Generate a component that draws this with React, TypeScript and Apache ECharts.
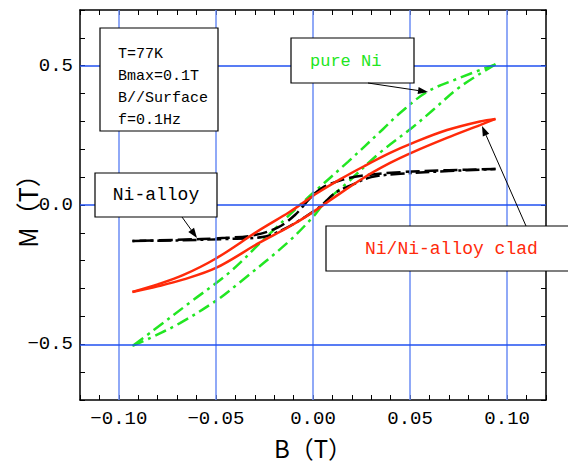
import React, { useEffect, useRef } from 'react';
import * as echarts from 'echarts';

// ---- data (B in tesla, M in tesla) ----
const xTickValues = [-0.1, -0.05, 0, 0.05, 0.1];
const xTickLabels = ['−0.10', '−0.05', '0.00', '0.05', '0.10'];
const yTickValues = [-0.5, 0, 0.5];
const yTickLabels = ['−0.5', '0.0', '0.5'];

// pure Ni: descending branch (upper) and ascending branch (lower)
const pureNiDown = [
  [0.094, 0.505], [0.075, 0.455], [0.0587, 0.406], [0.0448, 0.33], [0.036, 0.272],
  [0.018, 0.155], [0.0, 0.043], [-0.0067, 0.0], [-0.026, -0.128], [-0.043, -0.242],
  [-0.063, -0.348], [-0.082, -0.449], [-0.093, -0.506],
];
const pureNiUp = [
  [-0.093, -0.506], [-0.084, -0.478], [-0.0685, -0.424], [-0.0494, -0.341], [-0.0376, -0.277],
  [-0.0134, -0.137], [0.0, -0.043], [0.0065, 0.012], [0.0175, 0.079], [0.0345, 0.188],
  [0.0515, 0.28], [0.0618, 0.341], [0.0757, 0.424], [0.094, 0.505],
];

// Ni/Ni-alloy clad
const cladDown = [
  [0.094, 0.309], [0.086, 0.3], [0.069, 0.269], [0.0515, 0.223], [0.0397, 0.187],
  [0.0265, 0.14], [0.0139, 0.092], [0.002, 0.042], [-0.0067, 0.0], [-0.0125, -0.027],
  [-0.028, -0.092], [-0.05, -0.192], [-0.067, -0.252], [-0.08, -0.285], [-0.093, -0.312],
];
const cladUp = [
  [-0.093, -0.312], [-0.08, -0.292], [-0.067, -0.268], [-0.05, -0.226], [-0.028, -0.137],
  [-0.0125, -0.079], [-0.001, -0.03], [0.0098, 0.022], [0.0262, 0.098], [0.0397, 0.151],
  [0.0515, 0.19], [0.069, 0.241], [0.086, 0.287], [0.094, 0.309],
];

// Ni-alloy
const alloyDown = [
  [0.094, 0.129], [0.07, 0.125], [0.045, 0.118], [0.025, 0.105], [0.015, 0.09],
  [0.0046, 0.061], [-0.0015, 0.025], [-0.0093, -0.036], [-0.018, -0.08], [-0.03, -0.108],
  [-0.045, -0.118], [-0.07, -0.125], [-0.093, -0.129],
];
const alloyUp = [
  [-0.093, -0.129], [-0.07, -0.127], [-0.045, -0.122], [-0.026, -0.115], [-0.016, -0.09],
  [-0.0041, -0.043], [0.0046, 0.0], [0.0113, 0.043], [0.02, 0.072], [0.03, 0.1],
  [0.045, 0.112], [0.07, 0.122], [0.094, 0.129],
];

const infoLines = ['T=77K', 'Bmax=0.1T', 'B//Surface', 'f=0.1Hz'];
const alloyLabel = 'Ni-alloy';
const pureNiLabel = 'pure Ni';
const cladLabel = 'Ni/Ni-alloy clad';
const xName = 'B（T）';
const yName = 'M（T）';

const MONO = '"Liberation Mono", "DejaVu Sans Mono", monospace';
const CJK = '"Noto Sans CJK JP", "Noto Sans", sans-serif';
const GREEN = '#22e622';
const RED = '#ff2a0a';

function arrow(x1: number, y1: number, x2: number, y2: number) {
  const dx = x2 - x1, dy = y2 - y1;
  const L = Math.sqrt(dx * dx + dy * dy);
  const ux = dx / L, uy = dy / L;
  const nx = -uy, ny = ux;
  const len = 10, hw = 3.5;
  const bx = x2 - ux * len, by = y2 - uy * len;
  return [
    { type: 'line', z: 100, shape: { x1, y1, x2: bx, y2: by }, style: { stroke: '#000', lineWidth: 1 } },
    {
      type: 'polygon', z: 100,
      shape: { points: [[x2, y2], [bx + nx * hw, by + ny * hw], [bx - nx * hw, by - ny * hw]] },
      style: { fill: '#000' },
    },
  ];
}

function box(x: number, y: number, w: number, h: number) {
  return { type: 'rect', z: 99, shape: { x, y, width: w, height: h }, style: { fill: '#fff', stroke: '#000', lineWidth: 1.2 } };
}

function txt(text: string, x: number, y: number, size: number, color: string, align = 'left') {
  return {
    type: 'text', z: 101, x, y,
    style: {
      text, fill: color, font: `${size}px ${MONO}`,
      align, verticalAlign: 'middle', textAlign: align, textVerticalAlign: 'middle',
    },
  };
}

export default function App() {
  const ref = useRef<HTMLDivElement>(null);
  useEffect(() => {
    if (!ref.current) return;
    const chart = echarts.init(ref.current, undefined, { renderer: 'svg' });
    const fmtX = (v: number) => {
      const i = xTickValues.findIndex((t) => Math.abs(t - v) < 1e-6);
      return i >= 0 ? xTickLabels[i] : '';
    };
    const fmtY = (v: number) => {
      const i = yTickValues.findIndex((t) => Math.abs(t - v) < 1e-6);
      return i >= 0 ? yTickLabels[i] : '';
    };
    const axisLine = { show: true, onZero: false, lineStyle: { color: '#000', width: 1.5 } };
    const axisTick = { show: true, inside: true, length: 5, lineStyle: { color: '#000', width: 1 } };
    const labelStyle = { color: '#000', fontFamily: MONO, fontSize: 19 };

    const xBase = { type: 'value', min: -0.12, max: 0.12, interval: 0.01, splitLine: { show: false }, axisLine, axisTick };
    const yBase = { type: 'value', min: -0.7, max: 0.7, interval: 0.1, splitLine: { show: false }, axisLine, axisTick };

    const gridLines = [
      ...xTickValues.map((v) => ({ xAxis: v, lineStyle: { color: '#6b8cf5', width: 1.5, type: 'solid' } })),
      ...yTickValues.map((v) => ({ yAxis: v, lineStyle: { color: '#2050f0', width: 1.5, type: 'solid' } })),
    ];

    const lineSeries = (name: string, data: number[][], color: string, width: number, dash: any) => ({
      name, type: 'line', data, z: 3, smooth: 0.35, showSymbol: false, symbol: 'none',
      lineStyle: { color, width, type: dash }, silent: true,
    });

    const option: any = {
      animation: false,
      backgroundColor: '#fff',
      grid: { left: 80, top: 10, right: 22, bottom: 64, containLabel: false, outerBoundsMode: 'none' },
      xAxis: [
        {
          ...xBase, position: 'bottom',
          axisLabel: { ...labelStyle, margin: 9, formatter: fmtX },
          name: xName, nameLocation: 'middle', nameGap: 35, nameMoveOverlap: false,
          nameTextStyle: { color: '#000', fontFamily: CJK, fontSize: 24 },
        },
        { ...xBase, position: 'top', axisLabel: { show: false } },
      ],
      yAxis: [
        {
          ...yBase, position: 'left',
          axisLabel: { ...labelStyle, margin: 7, formatter: fmtY },
          name: yName, nameLocation: 'middle', nameGap: 41, nameRotate: 90, nameMoveOverlap: false,
          nameTextStyle: { color: '#000', fontFamily: CJK, fontSize: 25 },
        },
        { ...yBase, position: 'right', axisLabel: { show: false } },
      ],
      series: [
        {
          name: 'grid', type: 'line', data: [[0, 0]], z: 1, showSymbol: false, symbol: 'none',
          lineStyle: { width: 0, opacity: 0 }, silent: true,
          markLine: { silent: true, symbol: ['none', 'none'], label: { show: false }, data: gridLines, animation: false },
        },
        lineSeries('pure Ni (down)', pureNiDown, GREEN, 2.5, [12, 5, 3, 5]),
        lineSeries('pure Ni (up)', pureNiUp, GREEN, 2.5, [12, 5, 3, 5]),
        lineSeries('Ni-alloy (down)', alloyDown, '#000', 2.5, [14, 5]),
        lineSeries('Ni-alloy (up)', alloyUp, '#000', 2.5, [14, 4, 3, 4]),
        lineSeries('clad (down)', cladDown, RED, 2.5, 'solid'),
        lineSeries('clad (up)', cladUp, RED, 2.5, 'solid'),
      ],
      graphic: {
        elements: [
          box(100, 28, 118, 103),
          ...infoLines.map((t, i) => txt(t, 118, 54 + i * 22, 15, '#000')),
          box(95, 173, 122, 44),
          txt(alloyLabel, 156, 195, 18, '#000', 'center'),
          ...arrow(182, 217, 197, 238),
          box(291, 38, 123, 45),
          txt(pureNiLabel, 310, 61, 17, GREEN),
          ...arrow(368, 83, 428, 92),
          box(326, 226, 260, 45),
          txt(cladLabel, 365, 249, 18, RED),
          ...arrow(526, 226, 482, 126),
        ],
      },
    };
    chart.setOption(option);
    return () => chart.dispose();
  }, []);
  return <div ref={ref} style={{ position: 'absolute', left: 0, top: 0, width: 568, height: 464 }} />;
}
